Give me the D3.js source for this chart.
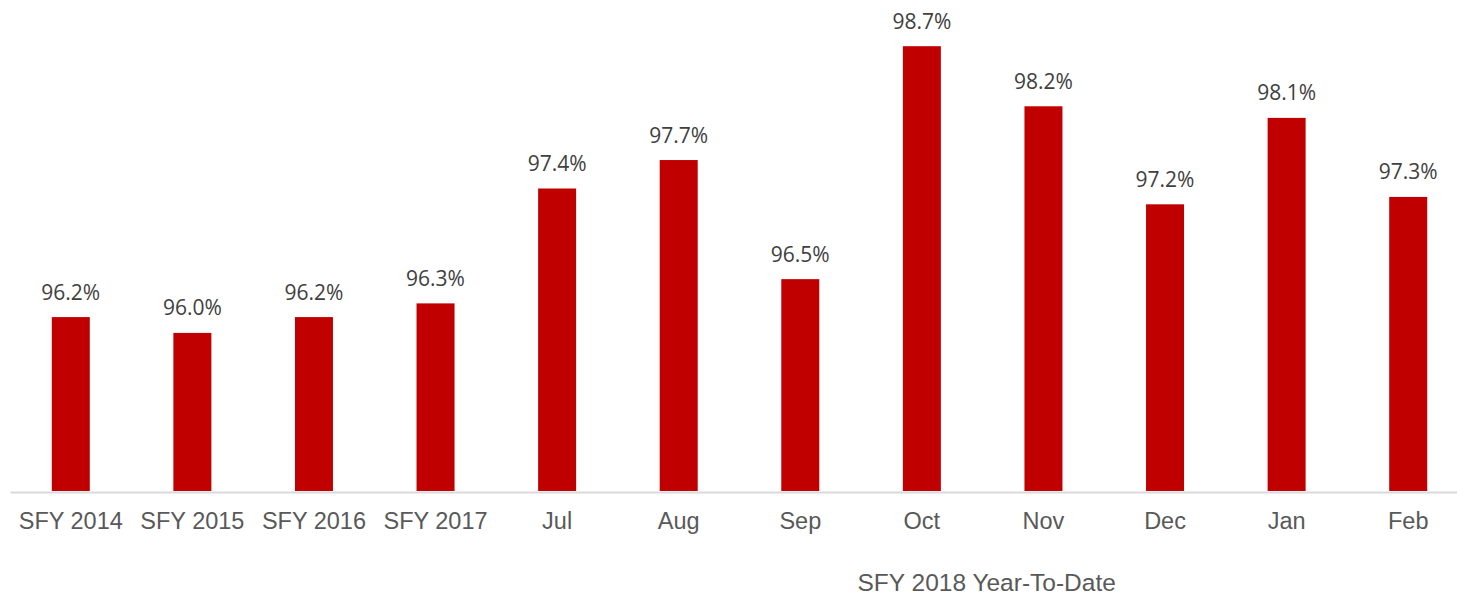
<!DOCTYPE html>
<html>
<head>
<meta charset="utf-8">
<script src="https://cdn.jsdelivr.net/npm/d3@7"></script>
<style>
  body { margin: 0; background: #fff; }
  .barLabel { font-family: "Open Sans", sans-serif; font-size: 21px; fill: #404040; }
  .axisLabel { font-family: "Liberation Sans", Arial, sans-serif; font-size: 23.5px; fill: #595959; }
  .groupLabel { font-family: "Liberation Sans", Arial, sans-serif; font-size: 24.5px; fill: #595959; }
</style>
</head>
<body>
<div class="chart"></div>
<script>
// Chart data (bar heights, labels shown to one decimal)
var categories = ["SFY 2014", "SFY 2015", "SFY 2016", "SFY 2017", "Jul", "Aug", "Sep", "Oct", "Nov", "Dec", "Jan", "Feb"];
var values = [96.17, 96.02, 96.17, 96.30, 97.39, 97.66, 96.53, 98.74, 98.17, 97.24, 98.06, 97.31];
var groupTitle = "SFY 2018 Year-To-Date";

// Setup dimensions
var svgWidth = 1457;
var svgHeight = 597;
var baseline = 491;

var svg = d3.select(".chart")
  .append("svg")
  .attr("width", svgWidth)
  .attr("height", svgHeight);

var data = categories.map(function(c, i) {
  return { cat: c, value: values[i] };
});

// Scales
var xScale = d3.scaleBand()
  .domain(categories)
  .range([10, 1469])
  .paddingInner(0.6875)
  .paddingOuter(0.34375);

var yScale = d3.scaleLinear()
  .domain([94.52, 99])
  .range([baseline, 18.8]);

// Bars
svg.selectAll("rect.bar")
  .data(data)
  .enter().append("rect")
  .attr("class", "bar")
  .attr("x", function(d) { return xScale(d.cat); })
  .attr("y", function(d) { return yScale(d.value); })
  .attr("width", xScale.bandwidth())
  .attr("height", function(d) { return baseline - yScale(d.value); })
  .attr("fill", "#c00000");

// Category axis
var bottomAxis = d3.axisBottom(xScale).tickSize(0).tickPadding(0);
var axisG = svg.append("g")
  .attr("transform", "translate(0," + (baseline + 1) + ")")
  .call(bottomAxis);

axisG.select(".domain")
  .attr("stroke", "#d9d9d9")
  .attr("stroke-width", 2);

axisG.selectAll(".tick text")
  .attr("class", "axisLabel")
  .attr("dy", 0)
  .attr("y", 36.5)
  .attr("font-family", null)
  .attr("font-size", null)
  .attr("fill", null);

// Value labels
svg.selectAll("text.barLabel")
  .data(data)
  .enter().append("text")
  .attr("class", "barLabel")
  .attr("x", function(d) { return xScale(d.cat) + xScale.bandwidth() / 2; })
  .attr("y", function(d) { return yScale(d.value) - 17.5; })
  .attr("text-anchor", "middle")
  .text(function(d) { return d.value.toFixed(1) + "%"; });

// Group title under the SFY 2018 months
var first = xScale("Jul") + xScale.bandwidth() / 2;
var last = xScale("Feb") + xScale.bandwidth() / 2;
svg.append("text")
  .attr("class", "groupLabel")
  .attr("x", (first + last) / 2 + 4)
  .attr("y", 590.5)
  .attr("text-anchor", "middle")
  .text(groupTitle);
</script>
</body>
</html>
